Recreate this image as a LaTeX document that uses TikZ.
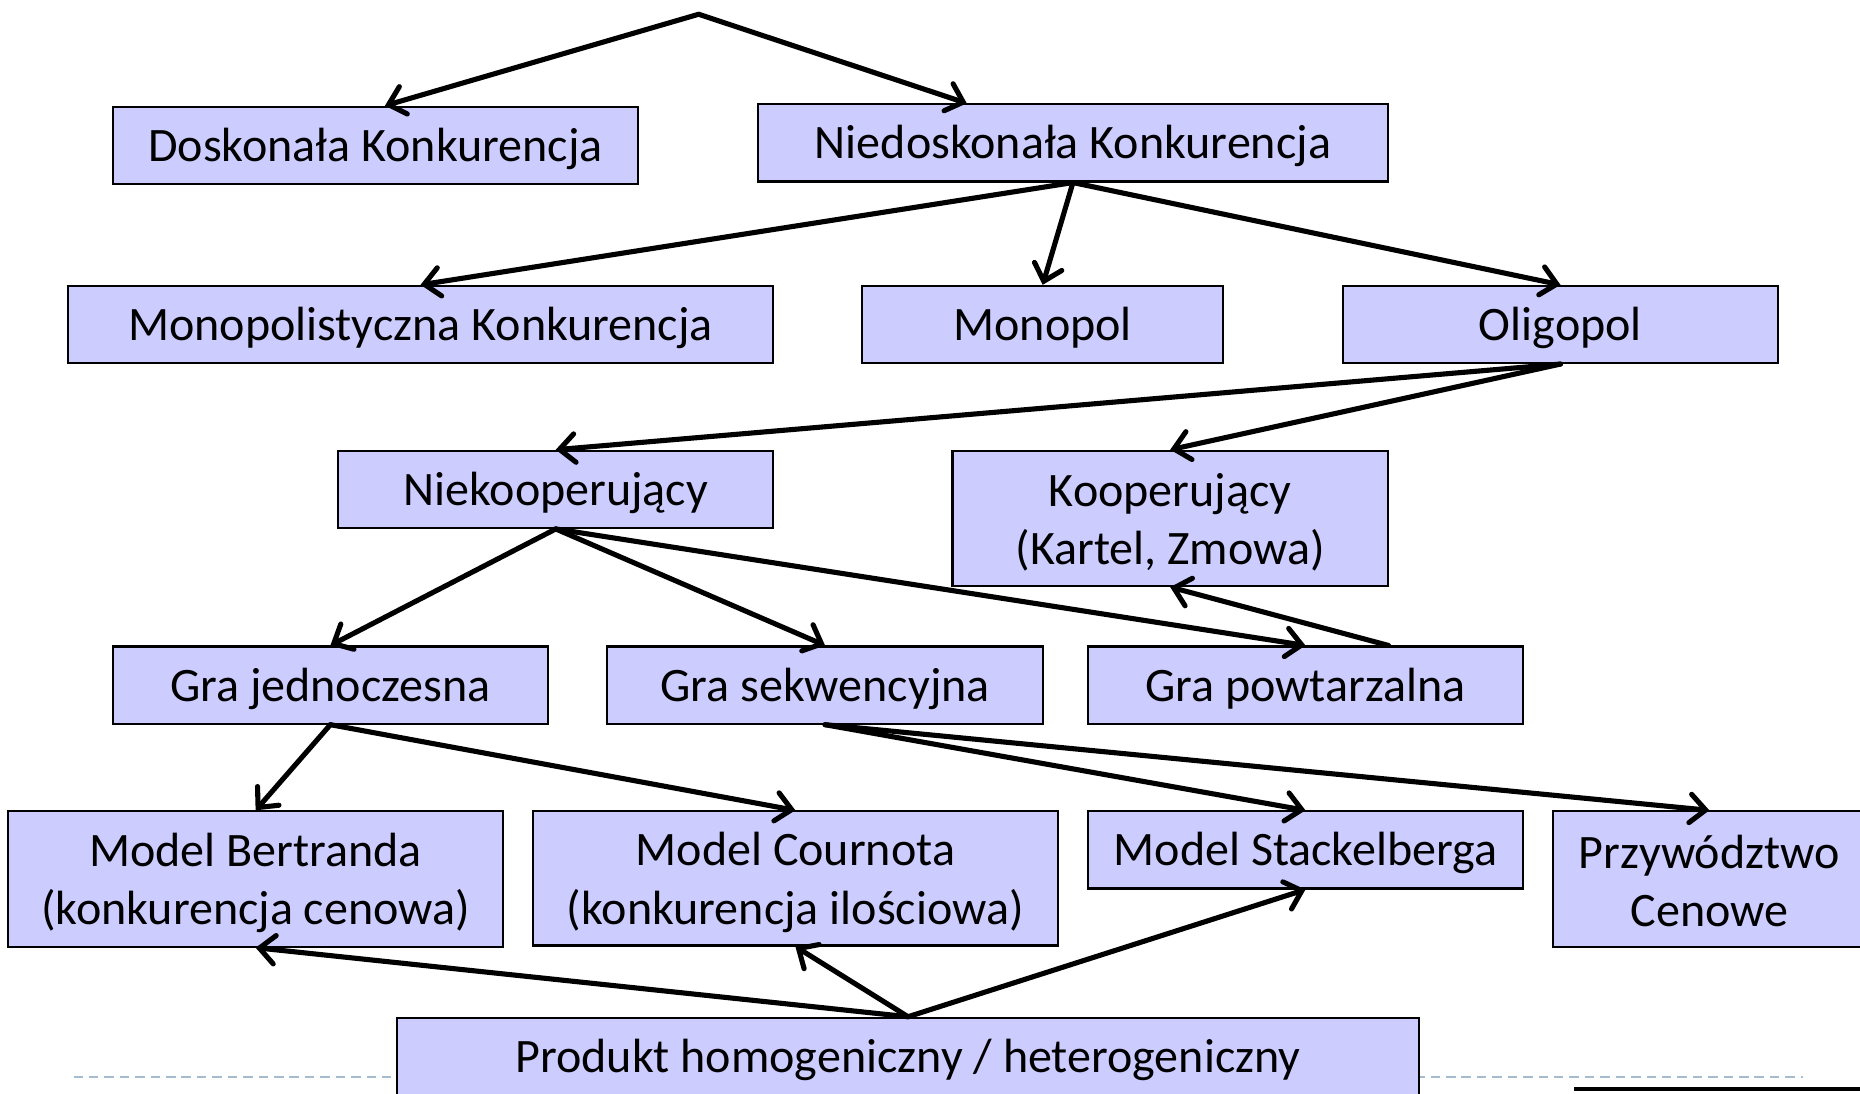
\documentclass[tikz,border=0pt]{standalone}
\usepackage{fontspec}
\setmainfont{Carlito}
\usetikzlibrary{arrows.meta}
\definecolor{boxfill}{HTML}{CCCCFF}
\definecolor{dashcol}{HTML}{A7BBCF}
\tikzset{
  boxbase/.style={draw=black, line width=1.8pt, fill=boxfill, inner sep=0pt, align=center,
    font=\fontsize{40.5}{49}\selectfont},
  box/.style={boxbase, text height=35pt, text depth=8pt},
  boxtwo/.style={boxbase, text height=84pt},
  conn/.style={line width=4.3pt, line cap=round, -{Straight Barb[length=13pt,width=24pt,line width=4.3pt,line cap=round]}}
}
\begin{document}
\begin{tikzpicture}[x=1pt,y=-1pt]
\useasboundingbox (0,0) rectangle (1568,922);
\fill[white] (0,0) rectangle (1568,922);
% dashed footer line
\draw[dashcol, line width=2pt, dash pattern=on 8pt off 5pt] (62,908) -- (1520,908);
\draw[black, line width=3.5pt] (1327,918) -- (1600,918);

\node[box, minimum width=443pt, minimum height=65pt] (dosk) at (316.5,122.5) {Doskonała Konkurencja};
\node[box, minimum width=531pt, minimum height=65pt] (nied) at (904.5,120.5) {Niedoskonała Konkurencja};
\node[box, minimum width=595pt, minimum height=65pt] (mkon) at (354.5,273.5) {Monopolistyczna Konkurencja};
\node[box, minimum width=304pt, minimum height=65pt] (mono) at (879,273.5) {Monopol};
\node[box, minimum width=367pt, minimum height=65pt] (olig) at (1315.5,273.5) {Oligopol};
\node[box, minimum width=367pt, minimum height=65pt] (niek) at (468.5,412.5) {Niekooperujący};
\node[boxtwo, minimum width=367pt, minimum height=114pt] (koop) at (986.5,437) {Kooperujący\\(Kartel, Zmowa)};
\node[box, minimum width=367pt, minimum height=65pt] (gjed) at (278.5,577.5) {Gra jednoczesna};
\node[box, minimum width=367pt, minimum height=65pt] (gsek) at (695.5,577.5) {Gra sekwencyjna};
\node[box, minimum width=367pt, minimum height=65pt] (gpow) at (1100.5,577.5) {Gra powtarzalna};
\node[boxtwo, minimum width=417pt, minimum height=114pt] (bert) at (215.5,741) {Model Bertranda\\(konkurencja cenowa)};
\node[boxtwo, minimum width=443pt, minimum height=113pt] (cour) at (670.5,740.5) {Model Cournota\\(konkurencja ilościowa)};
\node[box, minimum width=367pt, minimum height=65pt] (stac) at (1100.5,716.5) {Model Stackelberga};
\node[boxtwo, text height=80pt, minimum width=264pt, minimum height=114pt] (prze) at (1441,741) {Przywództwo\\Cenowe};
\node[box, minimum width=861pt, minimum height=66pt] (prod) at (765.5,891) {Produkt homogeniczny / heterogeniczny};

\coordinate (top) at (589,12);
\draw[conn] (top) -- ([xshift=8pt]dosk.north);
\draw[conn] (top) -- ([xshift=-89.5pt]nied.north);

\draw[conn] (nied.south) -- (mkon.north);
\draw[conn] (nied.south) -- (mono.north);
\draw[conn] (nied.south) -- (olig.north);

\draw[conn] (olig.south) -- (niek.north);
\draw[conn] (olig.south) -- (koop.north);

\draw[conn] (niek.south) -- (gjed.north);
\draw[conn] (niek.south) -- (gsek.north);
\draw[conn] (niek.south) -- (gpow.north);
\draw[conn] ([xshift=70pt]gpow.north) -- (koop.south);

\draw[conn] (gjed.south) -- (bert.north);
\draw[conn] (gjed.south) -- (cour.north);
\draw[conn] (gsek.south) -- (stac.north);
\draw[conn] (gsek.south) -- (prze.north);

\draw[conn] (prod.north) -- (bert.south);
\draw[conn] (prod.north) -- (cour.south);
\draw[conn] (prod.north) -- (stac.south);
\end{tikzpicture}
\end{document}
